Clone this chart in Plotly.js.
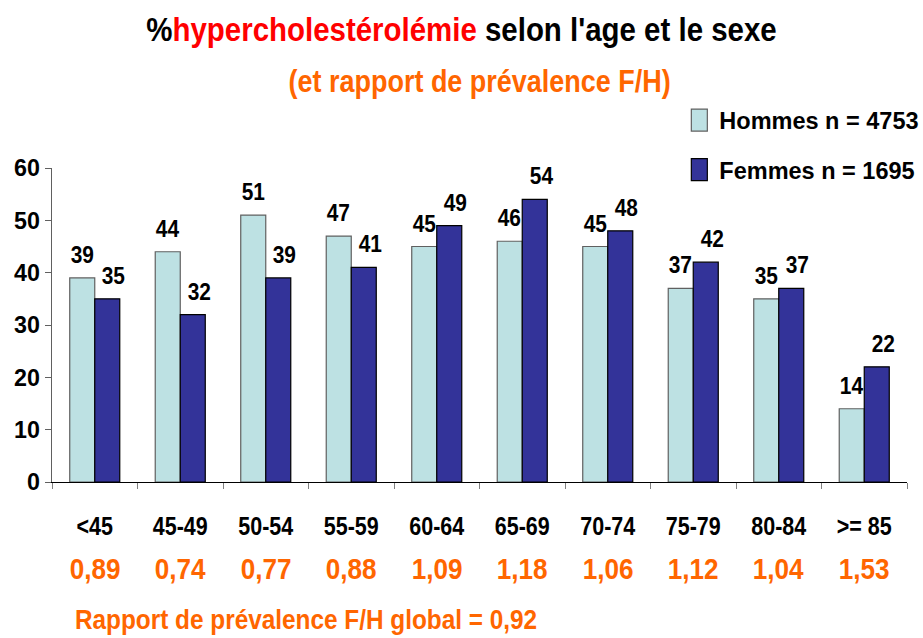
<!DOCTYPE html>
<html><head><meta charset="utf-8">
<script src="https://cdn.plot.ly/plotly-3.0.1.min.js"></script>
<style>html,body{margin:0;padding:0;background:#fff}</style>
</head><body>
<div id="chart" style="width:923px;height:638px"></div>
<script>
const categories = ['<45','45-49','50-54','55-59','60-64','65-69','70-74','75-79','80-84','>= 85'];
const hommes = [39,44,51,47,45,46,45,37,35,14];
const femmes = [35,32,39,41,49,54,48,42,37,22];
const ratios = ['0,89','0,74','0,77','0,88','1,09','1,18','1,06','1,12','1,04','1,53'];
const nHommes = 4753, nFemmes = 1695;
const globalRatio = '0,92';

const FONT = '"Liberation Sans", Arial, sans-serif';
const ORANGE = '#FF6600';

const traces = [
  {type:'bar', name:'Hommes n = ' + nHommes, x:categories, y:hommes, legendgroup:'h',
   marker:{color:'#BDE1E3', line:{color:'#606060', width:1.2}}},
  {type:'bar', name:'Femmes n = ' + nFemmes, x:categories, y:femmes, legendgroup:'f',
   marker:{color:'#333399', line:{color:'#000000', width:1.2}}}
];

const annotations = [];
categories.forEach((c,i)=>{
  annotations.push({x:c, y:hommes[i], xref:'x', yref:'y', text:String(hommes[i]), showarrow:false,
    xshift:-12.5, yshift:8, yanchor:'bottom', font:{family:FONT, size:24, weight:'bold', color:'#000'}});
  annotations.push({x:c, y:femmes[i], xref:'x', yref:'y', text:String(femmes[i]), showarrow:false,
    xshift:19, yshift:8, yanchor:'bottom', font:{family:FONT, size:24, weight:'bold', color:'#000'}});
  annotations.push({x:c, y:-0.277, xref:'x', yref:'paper', text:ratios[i], showarrow:false,
    yanchor:'middle', font:{family:FONT, size:30, weight:'bold', color:ORANGE}});
});
annotations.push({x:0.5, y:1.275, xref:'paper', yref:'paper', text:'(et rapport de prévalence F/H)', showarrow:false,
  yanchor:'middle', font:{family:FONT, size:31, weight:'bold', color:ORANGE}});
annotations.push({x:0.025, y:-0.437, xref:'paper', yref:'paper', text:'Rapport de prévalence F/H global = ' + globalRatio,
  showarrow:false, xanchor:'left', align:'left', yanchor:'middle', font:{family:FONT, size:28, weight:'bold', color:ORANGE}});

const layout = {
  width:923, height:638,
  margin:{l:52, r:16, t:168, b:156, autoexpand:false},
  paper_bgcolor:'#fff', plot_bgcolor:'#fff',
  title:{text:'%<span style="color:#FF0000">hypercholestérolémie</span> selon l\'age et le sexe',
    x:0.5, xref:'container', y:0.955, yref:'container', yanchor:'middle',
    font:{family:FONT, size:34, weight:'bold', color:'#000'}},
  barmode:'group', bargap:0.415, bargroupgap:0,
  showlegend:true,
  legend:{x:0.736, y:0.846, xref:'container', yref:'container', xanchor:'left', yanchor:'top',
    traceorder:'grouped', tracegroupgap:16, itemwidth:30,
    font:{family:FONT, size:23.5, weight:'bold', color:'#000'}, bgcolor:'rgba(0,0,0,0)'},
  xaxis:{type:'category', showline:true, linecolor:'#000', linewidth:1.2, ticks:'outside', tickson:'boundaries',
    ticklen:6, tickcolor:'#808080', showgrid:false, ticklabelstandoff:22, tickangle:0,
    tickfont:{family:FONT, size:25, weight:'bold', color:'#000'}},
  yaxis:{range:[0,60], dtick:10, showline:true, linecolor:'#606060', linewidth:1.2, ticks:'outside', ticklen:6,
    tickcolor:'#606060', showgrid:false, zeroline:false,
    tickfont:{family:FONT, size:24, weight:'bold', color:'#000'}},
  annotations:annotations
};

// Horizontal squeeze of rendered text (the reference uses a condensed face)
function condense(sel, f){
  document.querySelectorAll(sel).forEach(el=>{
    const bb = el.getBBox();
    if (!bb.width) return;
    const anchor = el.getAttribute('text-anchor') || getComputedStyle(el).textAnchor || 'start';
    let ax = bb.x;
    if (anchor === 'middle') ax = bb.x + bb.width/2;
    else if (anchor === 'end') ax = bb.x + bb.width;
    const prev = el.getAttribute('transform') || '';
    el.setAttribute('transform', (prev + ' translate(' + ax + ',0) scale(' + f + ',1) translate(' + (-ax) + ',0)').trim());
  });
}

Plotly.newPlot('chart', traces, layout, {displayModeBar:false, staticPlot:true}).then(()=>{
  condense('#chart .gtitle', 0.866);
  condense('#chart .annotation-text', 0.87);
  condense('#chart .xtick text', 0.86);
  condense('#chart .ytick text', 0.97);
  document.querySelectorAll('#chart .legendpoints path').forEach(p=>{
    p.setAttribute('d', 'M8,11H-8V-11H8Z');
  });
});
</script>
</body></html>
